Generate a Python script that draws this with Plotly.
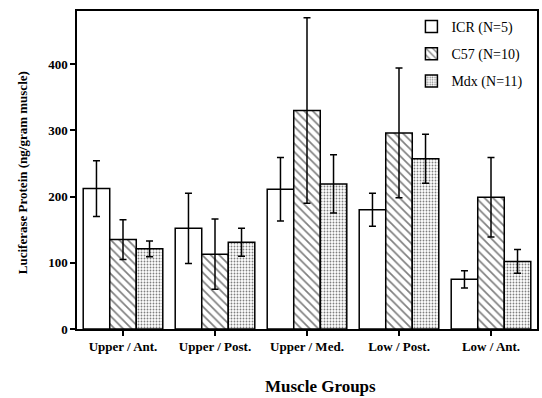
import plotly.graph_objects as go

categories = ["Upper / Ant.", "Upper / Post.", "Upper / Med.", "Low / Post.", "Low / Ant."]
series_names = ["ICR (N=5)", "C57 (N=10)", "Mdx (N=11)"]
icr_values = [212, 152, 211, 180, 75]
icr_err = [42, 53, 48, 25, 13]
c57_values = [135, 113, 330, 296, 199]
c57_err = [30, 53, 140, 98, 60]
mdx_values = [121, 131, 219, 257, 102]
mdx_err = [12, 21, 44, 37, 18]
y_ticks = [0, 100, 200, 300, 400]

serif = "Liberation Serif"
patterns = [
    dict(shape=""),
    dict(shape="\\", fgcolor="black", bgcolor="white", size=6, solidity=0.28),
    dict(shape=".", fgcolor="black", bgcolor="white", size=3, solidity=0.3),
]
values = [icr_values, c57_values, mdx_values]
errs = [icr_err, c57_err, mdx_err]

fig = go.Figure()
for i, name in enumerate(series_names):
    fig.add_trace(go.Bar(
        x=categories, y=values[i], name=name, legendgroup=name,
        marker=dict(color="white", line=dict(color="black", width=1.5), pattern=patterns[i]),
        error_y=dict(type="data", array=errs[i], visible=True, color="black", thickness=1.5, width=3.5),
    ))

fig.update_layout(
    width=542, height=398,
    margin=dict(l=77, r=3, t=11, b=69),
    paper_bgcolor="white", plot_bgcolor="white",
    barmode="group", bargap=0.135, bargroupgap=0,
    font=dict(family=serif, color="black"),
    showlegend=True,
    legend=dict(x=0.727, y=1.0, xanchor="left", yanchor="top",
                font=dict(family=serif, size=14, color="black"),
                bgcolor="rgba(0,0,0,0)", tracegroupgap=6),
)
fig.update_xaxes(
    showline=True, linecolor="black", linewidth=1.5, mirror=True,
    ticks="outside", ticklen=5, tickwidth=1.5, tickcolor="black",
    tickfont=dict(family=serif, size=13, color="black", weight="bold"),
    showgrid=False,
)
fig.update_yaxes(
    range=[0, 480], tickvals=y_ticks,
    showline=True, linecolor="black", linewidth=1.5, mirror=True,
    ticks="outside", ticklen=5, tickwidth=1.5, tickcolor="black",
    tickfont=dict(family=serif, size=13, color="black", weight="bold"),
    showgrid=False, zeroline=False,
)
fig.add_annotation(text="Luciferase Protein (ng/gram muscle)", xref="paper", yref="paper",
                   x=0, y=0.49, xshift=-55, textangle=-90, showarrow=False,
                   xanchor="center", yanchor="middle",
                   font=dict(family=serif, size=13, color="black", weight="bold"))
fig.add_annotation(text="Muscle Groups", xref="paper", yref="paper",
                   x=0.53, y=0, yshift=-57, showarrow=False,
                   xanchor="center", yanchor="middle",
                   font=dict(family=serif, size=17, color="black", weight="bold"))
fig.write_html("out.html", config={"displayModeBar": False},
               post_script="document.body.style.margin='0';document.body.style.overflow='hidden';")
